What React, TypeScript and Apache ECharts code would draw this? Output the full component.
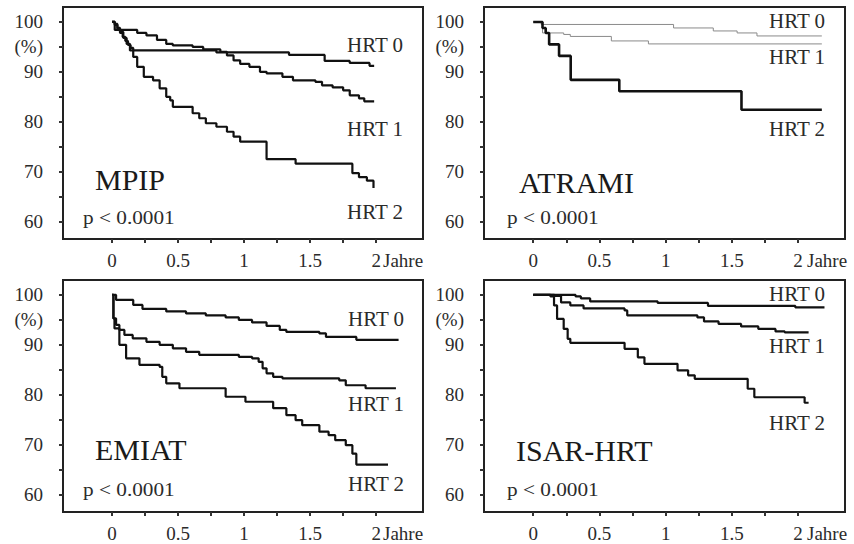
import React, { useEffect, useRef } from "react";
import * as echarts from "echarts";

const X_TICKS = [0, 0.25, 0.5, 0.75, 1, 1.25, 1.5, 1.75, 2];
const X_LABELS = [0, 0.5, 1, 1.5, 2];
const Y_TICKS = [60, 65, 70, 75, 80, 85, 90, 95, 100];
const Y_LABELS = [60, 70, 80, 90, 95, 100];

const PANEL_NAMES = ["MPIP", "ATRAMI", "EMIAT", "ISAR-HRT"];
const GROUP_NAMES = ["HRT 0", "HRT 1", "HRT 2"];
const P_TEXT = "p < 0.0001";
const X_UNIT = "Jahre";

const mpipHrt0 = [[0,100],[0.02,99.4],[0.04,98.6],[0.06,97.8],[0.08,97.0],[0.10,96.2],[0.12,95.4],[0.14,94.8],[0.16,94.3],[0.79,93.9],[1.34,93.4],[1.61,92.2],[1.80,91.8],[1.95,91.2],[1.985,91.2]];
const mpipHrt1 = [[0,100],[0.02,98.4],[0.19,97.8],[0.26,97.3],[0.34,96.4],[0.41,95.6],[0.46,95.3],[0.61,95.0],[0.69,94.5],[0.82,94.0],[0.87,93.3],[0.92,92.3],[0.97,91.6],[1.04,91.0],[1.12,90.0],[1.17,89.7],[1.29,89.0],[1.37,88.3],[1.54,88.0],[1.59,87.3],[1.67,86.9],[1.75,86.3],[1.80,85.3],[1.87,84.7],[1.91,84.1],[1.985,84.1]];
const mpipHrt2 = [[0,100],[0.02,99.6],[0.04,98.8],[0.06,98.0],[0.085,96.8],[0.11,95.6],[0.135,94.3],[0.16,93.0],[0.19,91.0],[0.24,89.0],[0.31,88.3],[0.36,86.7],[0.41,85.0],[0.44,84.3],[0.46,83.0],[0.61,81.7],[0.66,80.7],[0.71,79.7],[0.79,79.0],[0.87,78.0],[0.92,77.0],[0.97,76.0],[1.17,72.5],[1.39,71.6],[1.82,69.7],[1.87,68.9],[1.93,68.2],[1.98,66.7]];

const atramiHrt0 = [[0,100],[0.06,99.5],[1.06,98.8],[1.36,98.2],[1.54,97.8],[1.69,97.2],[2.18,97.2]];
const atramiHrt1 = [[0,100],[0.07,97.8],[0.23,97.5],[0.28,97.1],[0.59,96.2],[0.87,95.6],[2.18,95.6]];
const atramiHrt2 = [[0,100],[0.07,98.8],[0.094,97.8],[0.12,95.5],[0.195,93.2],[0.283,88.4],[0.65,86.1],[1.573,82.4],[2.18,82.4]];

const emiatHrt0 = [[0,100],[0.03,99.0],[0.16,98.0],[0.23,97.2],[0.41,96.7],[0.56,96.3],[0.71,95.9],[0.86,95.5],[0.96,95.0],[1.06,94.5],[1.17,93.8],[1.27,93.0],[1.32,92.6],[1.57,92.3],[1.62,91.6],[1.85,91.0],[2.17,91.0]];
const emiatHrt1 = [[0,100],[0.01,95.3],[0.03,94.0],[0.055,93.0],[0.093,92.0],[0.156,91.3],[0.26,90.6],[0.36,90.0],[0.46,89.3],[0.56,88.6],[0.66,88.0],[0.96,87.6],[1.06,87.3],[1.11,86.6],[1.14,85.3],[1.17,84.3],[1.22,83.6],[1.29,83.3],[1.72,82.9],[1.77,81.9],[1.92,81.3],[2.15,81.3]];
const emiatHrt2 = [[0,100],[0.01,95.3],[0.018,93.3],[0.055,90.0],[0.106,87.3],[0.207,86.0],[0.36,85.6],[0.38,83.6],[0.41,82.3],[0.51,81.3],[0.86,79.6],[1.01,78.6],[1.22,77.3],[1.32,75.9],[1.39,74.9],[1.44,73.9],[1.57,72.6],[1.64,71.9],[1.69,70.9],[1.77,69.9],[1.82,68.2],[1.85,66.0],[2.09,66.0]];

const isarHrt0 = [[0,100],[0.32,99.7],[0.36,99.3],[0.43,98.7],[0.94,98.4],[1.32,97.8],[1.98,97.5],[2.2,97.5]];
const isarHrt1 = [[0,100],[0.16,99.8],[0.21,98.5],[0.28,97.9],[0.38,97.3],[0.69,96.9],[0.71,95.9],[1.24,95.5],[1.29,94.7],[1.40,94.2],[1.57,93.7],[1.70,93.2],[1.83,92.7],[1.90,92.5],[2.08,92.5]];
const isarHrt2 = [[0,100],[0.13,99.7],[0.157,97.9],[0.18,95.2],[0.23,93.2],[0.26,91.2],[0.28,90.4],[0.69,89.2],[0.79,87.5],[0.84,86.2],[1.09,84.9],[1.17,83.9],[1.22,83.2],[1.62,81.2],[1.67,79.5],[2.05,78.4],[2.08,78.4]];

const PANEL_DATA = [
  [mpipHrt0, mpipHrt1, mpipHrt2],
  [atramiHrt0, atramiHrt1, atramiHrt2],
  [emiatHrt0, emiatHrt1, emiatHrt2],
  [isarHrt0, isarHrt1, isarHrt2],
];

const FONT = '"Liberation Serif", "Times New Roman", serif';
const TEXT_COLOR = "#2b2b2b";

const GRIDS = [
  { left: 63, top: 7, width: 360, height: 232 },
  { left: 484, top: 7, width: 361, height: 232 },
  { left: 63, top: 280, width: 360, height: 232 },
  { left: 484, top: 280, width: 361, height: 232 },
];

const ANNOT = [
  { hrt: [[347, 45], [347, 129], [347, 212]], name: [95, 179], p: [83, 217], jahre: [383, 260] },
  { hrt: [[769, 21], [769, 57], [769, 129]], name: [519, 182], p: [507, 217], jahre: [807, 260] },
  { hrt: [[348, 319], [348, 404], [348, 484]], name: [95, 449], p: [83, 489], jahre: [383, 533] },
  { hrt: [[769, 294], [769, 346], [769, 423]], name: [516, 450], p: [507, 489], jahre: [807, 533] },
];

function buildOption() {
  const grid = GRIDS.map((g) => ({
    ...g,
    show: true,
    borderColor: "#222",
    borderWidth: 2,
    backgroundColor: "rgba(0,0,0,0)",
    containLabel: false,
  }));
  const xAxis = GRIDS.map((_, i) => ({
    type: "value",
    gridIndex: i,
    min: -0.372,
    max: 2.355,
    axisLine: { show: false, onZero: false },
    splitLine: { show: false },
    axisTick: {
      show: true,
      inside: false,
      length: 4,
      customValues: X_TICKS,
      lineStyle: { color: "#333", width: 2 },
    },
    axisLabel: {
      show: true,
      customValues: X_LABELS,
      formatter: (v: number) => String(v),
      fontFamily: FONT,
      fontSize: 19,
      color: TEXT_COLOR,
      margin: 12,
    },
  }));
  const yAxis = GRIDS.map((_, i) => ({
    type: "value",
    gridIndex: i,
    min: 56.5,
    max: 103,
    axisLine: { show: false, onZero: false },
    splitLine: { show: false },
    axisTick: {
      show: true,
      inside: false,
      length: 4,
      customValues: Y_TICKS,
      lineStyle: { color: "#333", width: 2 },
    },
    axisLabel: {
      show: true,
      customValues: Y_LABELS,
      formatter: (v: number) => (v === 95 ? "(%)" : String(v)),
      fontFamily: FONT,
      fontSize: 19,
      color: TEXT_COLOR,
      margin: 20,
    },
  }));
  const series: any[] = [];
  PANEL_DATA.forEach((curves, pi) => {
    curves.forEach((data, ci) => {
      const thin = pi === 1 && ci < 2;
      series.push({
        type: "line",
        name: `${PANEL_NAMES[pi]} ${GROUP_NAMES[ci]}`,
        xAxisIndex: pi,
        yAxisIndex: pi,
        data,
        step: "end",
        showSymbol: false,
        symbol: "none",
        silent: true,
        lineStyle: {
          color: thin ? "#8a8a8a" : "#111",
          width: thin ? 1 : pi === 1 ? 2.6 : 2.2,
        },
      });
    });
  });
  const graphic: any[] = [];
  ANNOT.forEach((a, pi) => {
    a.hrt.forEach(([x, y], ci) => {
      graphic.push({
        type: "text",
        x,
        y,
        scaleX: 1.05,
        style: { text: GROUP_NAMES[ci], fontFamily: FONT, fontSize: 20, fill: TEXT_COLOR, verticalAlign: "middle", align: "left" },
      });
    });
    graphic.push({
      type: "text",
      x: a.name[0],
      y: a.name[1],
      style: { text: PANEL_NAMES[pi], fontFamily: FONT, fontSize: 30, fill: "#1a1a1a", verticalAlign: "middle", align: "left" },
    });
    graphic.push({
      type: "text",
      x: a.p[0],
      y: a.p[1],
      scaleX: 1.12,
      style: { text: P_TEXT, fontFamily: FONT, fontSize: 19, fill: TEXT_COLOR, verticalAlign: "middle", align: "left" },
    });
    graphic.push({
      type: "text",
      x: a.jahre[0],
      y: a.jahre[1],
      style: { text: X_UNIT, fontFamily: FONT, fontSize: 19, fill: TEXT_COLOR, verticalAlign: "middle", align: "left" },
    });
  });
  return {
    animation: false,
    backgroundColor: "#ffffff",
    grid,
    xAxis,
    yAxis,
    series,
    graphic,
  };
}

export default function App() {
  const ref = useRef<HTMLDivElement>(null);
  useEffect(() => {
    if (!ref.current) return;
    const chart = echarts.init(ref.current, null, { renderer: "svg" });
    chart.setOption(buildOption() as any);
    return () => chart.dispose();
  }, []);
  return (
    <div
      ref={ref}
      style={{ position: "fixed", left: 0, top: 0, width: 854, height: 544, background: "#fff" }}
    />
  );
}
